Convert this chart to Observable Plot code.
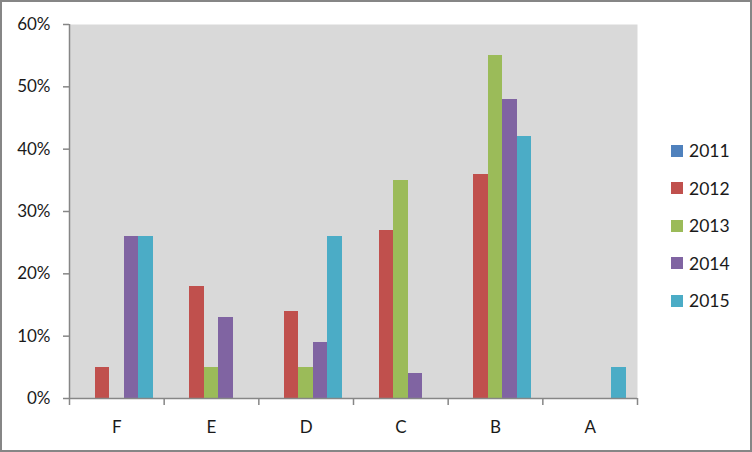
<!DOCTYPE html>
<html>
<head>
<meta charset="utf-8">
<script src="https://cdn.jsdelivr.net/npm/d3@7"></script>
<script src="https://cdn.jsdelivr.net/npm/@observablehq/plot@0.6"></script>
<style>
  body { margin: 0; background: #fff; }
  #wrap { position: relative; width: 752px; height: 452px; font-family: Lato, sans-serif; color: #1a1a1a; }
  #border { position: absolute; left: 0; top: 0; width: 752px; height: 452px; box-sizing: border-box; border: 2px solid #868686; pointer-events: none; }
  #chart { position: absolute; left: 0; top: 0; }
  #legend { position: absolute; left: 671px; top: 0; }
  .item { position: absolute; left: 0; display: flex; align-items: center; height: 20px; white-space: nowrap; font-size: 17.5px; }
  .sw { width: 12px; height: 12px; margin-right: 6px; }
</style>
</head>
<body>
<div id="wrap">
  <div id="chart"></div>
  <div id="legend"></div>
  <div id="border"></div>
</div>
<script>
const categories = ["F", "E", "D", "C", "B", "A"];
const years = ["2011", "2012", "2013", "2014", "2015"];
const colors = ["#4f81bd", "#c0504d", "#9bbb59", "#8064a2", "#4bacc6"];
const v2011 = [0, 0, 0, 0, 0, 0];
const v2012 = [0.05, 0.18, 0.14, 0.27, 0.36, 0];
const v2013 = [0, 0.05, 0.05, 0.35, 0.55, 0];
const v2014 = [0.26, 0.13, 0.09, 0.04, 0.48, 0];
const v2015 = [0.26, 0, 0.26, 0, 0.42, 0.05];
const yTicks = [0, 0.1, 0.2, 0.3, 0.4, 0.5, 0.6];

const series = [v2011, v2012, v2013, v2014, v2015];
const data = [];
categories.forEach((c, ci) => {
  series.forEach((vals, yi) => {
    if (vals[ci] > 0) data.push({category: c, ci, year: years[yi], yi, value: vals[ci]});
  });
});

// within-category layout (in category units)
const groupPad = 0.116;
const barW = (1 - 2 * groupPad) / years.length;

const chart = Plot.plot({
  width: 752,
  height: 452,
  marginLeft: 69,
  marginRight: 115,
  marginTop: 24,
  marginBottom: 54,
  style: {fontFamily: "Lato, sans-serif", fontSize: "17px", color: "#1a1a1a", background: "transparent", overflow: "visible"},
  x: {domain: [0, categories.length]},
  y: {domain: [0, 0.6]},
  color: {domain: years, range: colors},
  marks: [
    Plot.frame({fill: "#d9d9d9", stroke: null}),
    Plot.rectY(data, {
      x1: d => d.ci + groupPad + d.yi * barW,
      x2: d => d.ci + groupPad + (d.yi + 1) * barW,
      y1: 0,
      y2: "value",
      fill: "year",
      shapeRendering: "crispEdges"
    }),
    Plot.ruleY([0], {stroke: "#868686", strokeWidth: 1.5}),
    Plot.ruleX([0], {stroke: "#868686", strokeWidth: 1.5}),
    Plot.axisY({ticks: yTicks, tickFormat: d3.format(".0%"), tickSize: 6, tickPadding: 13, stroke: "#868686", strokeWidth: 1.5, label: null}),
    Plot.axisX({ticks: d3.range(categories.length + 1), tickFormat: () => "", tickSize: 7, stroke: "#868686", strokeWidth: 1.5, label: null}),
    Plot.axisX({ticks: categories.map((c, i) => i + 0.5), tickFormat: t => categories[Math.floor(t)], tickSize: 0, tickPadding: 22, label: null})
  ]
});
document.getElementById("chart").appendChild(chart);

const legend = document.getElementById("legend");
years.forEach((y, i) => {
  const item = document.createElement("div");
  item.className = "item";
  item.style.top = (140.5 + i * 37.5) + "px";
  const sw = document.createElement("div");
  sw.className = "sw";
  sw.style.background = colors[i];
  const t = document.createElement("span");
  t.textContent = y;
  item.appendChild(sw);
  item.appendChild(t);
  legend.appendChild(item);
});
</script>
</body>
</html>
